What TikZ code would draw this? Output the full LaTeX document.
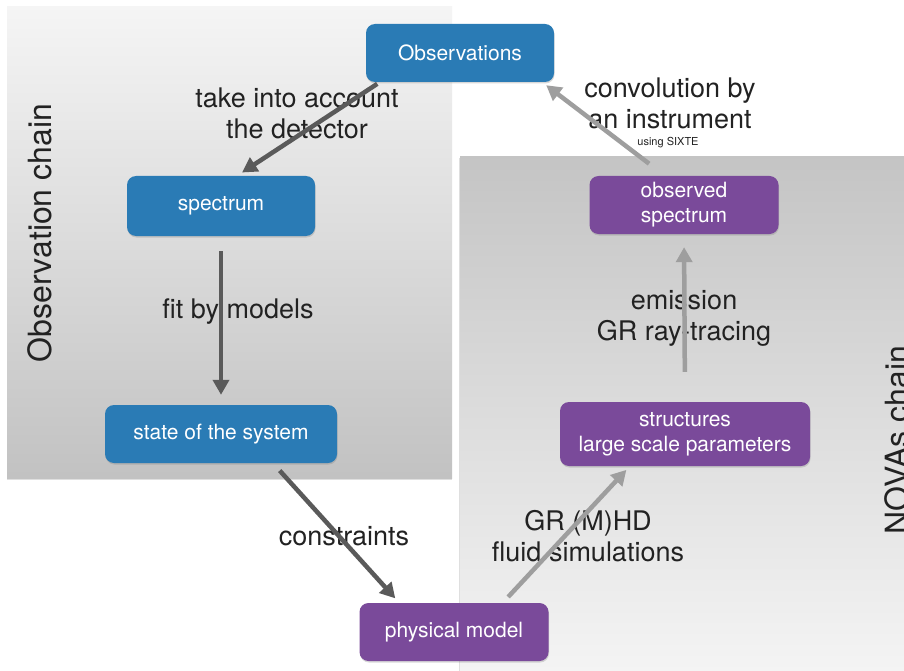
\documentclass[tikz,border=0pt]{standalone}
\usepackage{fontspec}
\setmainfont{TeX Gyre Heros}
\usetikzlibrary{arrows.meta,shadows}
\definecolor{obsblue}{HTML}{2A7BB5}
\definecolor{novapurple}{HTML}{7A4A9A}
\definecolor{darkarrow}{HTML}{5A5A5A}
\definecolor{lightarrow}{HTML}{9E9E9E}
\definecolor{labtext}{HTML}{222222}
\begin{document}
\begin{tikzpicture}[x=1pt,y=-1pt,
    box/.style={rounded corners=9pt, text=white, align=center, inner sep=0pt,
      font=\fontsize{21}{25}\selectfont, minimum height=58pt,
      drop shadow={opacity=0.3,shadow xshift=0.5pt,shadow yshift=-1.5pt}},
    obsbox/.style={box, fill=obsblue},
    novabox/.style={box, fill=novapurple},
    lab/.style={align=center, text=labtext, font=\fontsize{27}{31}\selectfont},
    chainlab/.style={text=labtext, font=\fontsize{32}{36}\selectfont, rotate=90, anchor=base},
    link/.style={line width=4.5pt, -{Triangle[length=15pt,width=16pt]}},
  ]
  \useasboundingbox (0,0) rectangle (904,671);
  \fill[white] (0,0) rectangle (904,671);
  % the two chains
  \shade[top color=black!4, bottom color=black!24,
    drop shadow={opacity=0.25,shadow xshift=0pt,shadow yshift=-1.5pt}] (7,7) rectangle (452,478);
  \shade[top color=black!23, bottom color=black!4,
    drop shadow={opacity=0.25,shadow xshift=-1pt,shadow yshift=-1pt}] (460,157) rectangle (910,680);
  \node[chainlab] (obschain) at (51,233) {Observation chain};
  \node[chainlab] (novachain) at (908,440) {NOVAs chain};

  % boxes
  \node[obsbox, minimum width=188pt] (obs) at (460,53) {Observations};
  \node[obsbox, minimum width=188pt, minimum height=60pt] (spec) at (221,206) {spectrum};
  \node[obsbox, minimum width=232pt] (state) at (221,434) {state of the system};
  \node[novabox, minimum width=189pt] (ospec) at (684,205) {observed\\spectrum};
  \node[novabox, minimum width=250pt, minimum height=64pt] (struct) at (685,434) {structures\\large scale parameters};
  \node[novabox, minimum width=189pt] (phys) at (454,632) {physical model};

  % labels
  \node[lab] (detlab) at (297,113) {take into account\\the detector};
  \node[lab] (convlab) at (670,103) {convolution by\\an instrument};
  \node[text=labtext, font=\fontsize{11}{13}\selectfont] (sixte) at (668,143) {using SIXTE};
  \node[lab] (fitlab) at (238,312) {fit by models};
  \node[lab] (emlab) at (684,318) {emission\\GR ray-tracing};
  \node[lab] (conslab) at (344,536) {constraints};
  \node[lab] (mhdlab) at (588,536) {GR (M)HD\\fluid simulations};

  % arrows
  \draw[link, darkarrow, shorten <=3pt, shorten >=6pt]
    ([xshift=14pt]obs.south west) -- ([xshift=16pt]spec.north);
  \draw[link, darkarrow, shorten <=15pt, shorten >=10pt] (spec.south) -- (state.north);
  \draw[link, darkarrow, shorten <=10pt, shorten >=6pt]
    ([xshift=52pt]state.south) -- ([xshift=40pt]phys.north west);
  \draw[link, lightarrow, shorten <=8pt, shorten >=5pt]
    ([xshift=-46pt]phys.north east) -- ([xshift=70pt]struct.south west);
  \draw[link, lightarrow, shorten <=30pt, shorten >=13pt] (struct.north) -- (ospec.south);
  \draw[link, lightarrow, shorten <=20pt, shorten >=5pt]
    ([xshift=-19pt]ospec.north) -- ([xshift=-12pt]obs.south east);
\end{tikzpicture}
\end{document}
